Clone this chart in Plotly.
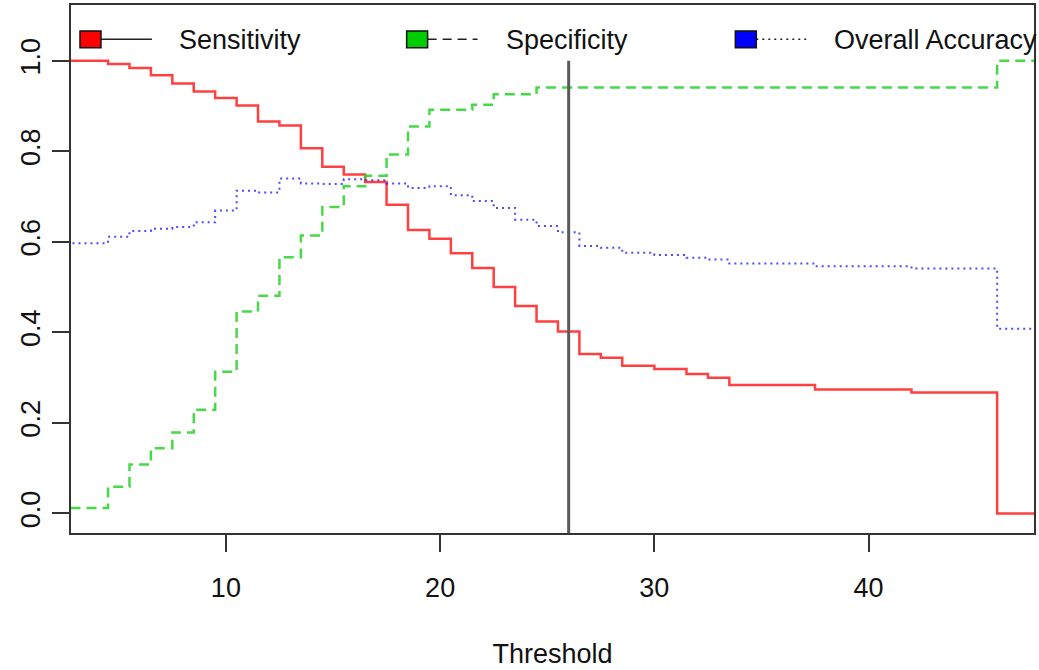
import plotly.graph_objects as go

# ---- data ----
thresholds = [2, 4.5, 5.5, 6.5, 7.5, 8.5, 9.5, 10.5, 11.5, 12.5, 13.5, 14.5, 15.5, 16.5,
              17.5, 18.5, 19.5, 20.5, 21.5, 22.5, 23.5, 24.5, 25.5, 26.5, 27.5, 28.5,
              30, 31.5, 32.5, 33.5, 37.5, 42, 46, 48]
sensitivity = [1.000, 0.993, 0.984, 0.968, 0.950, 0.932, 0.918, 0.901, 0.866, 0.857,
               0.807, 0.766, 0.749, 0.732, 0.682, 0.626, 0.607, 0.575, 0.542, 0.500,
               0.458, 0.424, 0.402, 0.352, 0.344, 0.326, 0.319, 0.308, 0.300, 0.284,
               0.274, 0.267, 0.000, 0.000]
specificity = [0.012, 0.059, 0.108, 0.144, 0.179, 0.229, 0.313, 0.446, 0.481, 0.566,
               0.614, 0.677, 0.723, 0.746, 0.793, 0.855, 0.892, 0.892, 0.903, 0.926,
               0.926, 0.941, 0.941, 0.941, 0.941, 0.941, 0.941, 0.941, 0.941, 0.941,
               0.941, 0.941, 1.000, 1.000]
accuracy = [0.597, 0.611, 0.624, 0.629, 0.633, 0.643, 0.669, 0.713, 0.709, 0.740,
            0.729, 0.728, 0.738, 0.736, 0.729, 0.719, 0.723, 0.703, 0.690, 0.675,
            0.649, 0.635, 0.621, 0.591, 0.587, 0.576, 0.571, 0.565, 0.561, 0.552,
            0.546, 0.541, 0.408, 0.408]
cutoff = 26
series_names = ["Sensitivity", "Specificity", "Overall Accuracy"]
x_ticks = [10, 20, 30, 40]
y_ticks = [0.0, 0.2, 0.4, 0.6, 0.8, 1.0]

# ---- styles ----
FONT = "Liberation Sans, Arial, sans-serif"
FS = 27
line_colors = ["rgba(255,30,30,0.85)", "rgba(40,210,40,0.85)", "rgba(30,30,255,0.8)"]
fill_colors = ["#FF0000", "#00CD00", "#0000FF"]
dashes = ["solid", "10px,6px", "2px,4px"]
widths = [2.5, 2.5, 2.0]

x_range = [2.77, 47.72]
y_range = [-0.0432, 1.1232]

W, H = 1039, 670
ML, MR, MT, MB = 71, 4, 3, 137
PW, PH = W - ML - MR, H - MT - MB

def px_x(p):
    return (p - ML) / PW

def px_y(p):
    return (H - MB - p) / PH

fig = go.Figure()
for name, vals, col, dsh, w in zip(series_names, [sensitivity, specificity, accuracy],
                                   line_colors, dashes, widths):
    fig.add_trace(go.Scatter(x=thresholds, y=vals, mode="lines", name=name,
                             line=dict(color=col, dash=dsh, width=w, shape="hv"),
                             showlegend=False, hoverinfo="skip"))

# vertical cutoff line
fig.add_shape(type="line", xref="x", yref="y", x0=cutoff, x1=cutoff,
              y0=y_range[0], y1=1.0, line=dict(color="#5a5a5a", width=3))

# manual legend
leg = [(80, 101, 152, 177), (407, 428, 478, 504), (736, 757, 807, 833)]
legend_dash = ["solid", "9px,6px", "2px,4px"]
cy = 37.5
for (sx0, sx1, lx1, tx), name, fc, ld in zip(leg, series_names, fill_colors, legend_dash):
    fig.add_shape(type="line", xref="paper", yref="paper",
                  x0=px_x(sx1), x1=px_x(lx1), y0=px_y(cy), y1=px_y(cy),
                  line=dict(color="#222222", width=1.5, dash=ld))
    fig.add_shape(type="rect", xref="paper", yref="paper",
                  x0=px_x(sx0), x1=px_x(sx1), y0=px_y(cy - 8.5), y1=px_y(cy + 8.5),
                  fillcolor=fc, line=dict(color="#111111", width=1.5))
    fig.add_annotation(x=px_x(tx), y=px_y(cy + 1), xref="paper", yref="paper",
                       text=name, showarrow=False, xanchor="left", yanchor="middle",
                       font=dict(family=FONT, size=FS, color="#111111"))

fig.update_layout(
    width=W, height=H,
    margin=dict(l=ML, r=MR, t=MT, b=MB),
    plot_bgcolor="white", paper_bgcolor="white",
    font=dict(family=FONT, size=FS, color="#111111"),
    xaxis=dict(range=x_range, tickvals=x_ticks, ticks="outside", ticklen=17,
               tickwidth=1.5, tickcolor="#333333", showgrid=False, zeroline=False,
               showline=True, mirror=True, linecolor="#333333", linewidth=2,
               ticklabelstandoff=13,
               title=dict(text="Threshold", standoff=42, font=dict(size=FS))),
    yaxis=dict(range=y_range, tickvals=y_ticks, tickformat=".1f", ticks="outside",
               ticklen=17, tickwidth=1.5, tickcolor="#333333", tickangle=-90,
               showgrid=False, zeroline=False, showline=True, mirror=True,
               linecolor="#333333", linewidth=2, ticklabelstandoff=1),
)

fig.write_html("out.html", config={"displayModeBar": False},
               post_script="document.body.style.margin='0px';")
